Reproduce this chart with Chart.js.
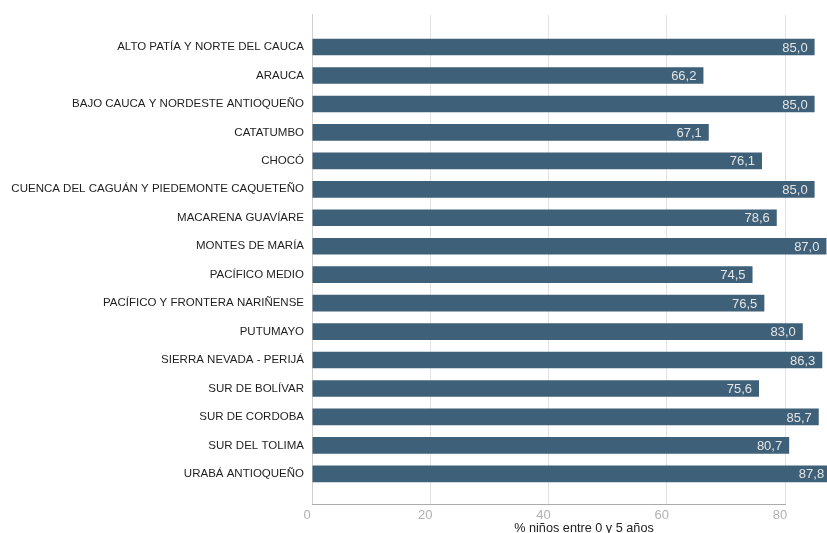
<!DOCTYPE html>
<html>
<head>
<meta charset="utf-8">
<script src="https://cdn.jsdelivr.net/npm/chart.js@4/dist/chart.umd.min.js"></script>
<style>
  html, body { margin: 0; padding: 0; background: #ffffff; overflow: hidden; }
  #wrap { width: 856px; height: 533px; position: relative; }
</style>
</head>
<body>
<div id="wrap"><canvas id="c" width="856" height="533"></canvas></div>
<script>
const categories = [
  "ALTO PATÍA Y NORTE DEL CAUCA",
  "ARAUCA",
  "BAJO CAUCA Y NORDESTE ANTIOQUEÑO",
  "CATATUMBO",
  "CHOCÓ",
  "CUENCA DEL CAGUÁN Y PIEDEMONTE CAQUETEÑO",
  "MACARENA GUAVÍARE",
  "MONTES DE MARÍA",
  "PACÍFICO MEDIO",
  "PACÍFICO Y FRONTERA NARIÑENSE",
  "PUTUMAYO",
  "SIERRA NEVADA - PERIJÁ",
  "SUR DE BOLÍVAR",
  "SUR DE CORDOBA",
  "SUR DEL TOLIMA",
  "URABÁ ANTIOQUEÑO"
];
const values = [85.0, 66.2, 85.0, 67.1, 76.1, 85.0, 78.6, 87.0, 74.5, 76.5, 83.0, 86.3, 75.6, 85.7, 80.7, 87.8];
const xTicks = [0, 20, 40, 60, 80];
const xTitle = "% niños entre 0 y 5 años";

const FONT = "'Liberation Sans', Arial, sans-serif";

const valueLabels = {
  id: 'valueLabels',
  afterDatasetsDraw(chart) {
    const ctx = chart.ctx;
    const meta = chart.getDatasetMeta(0);
    ctx.save();
    ctx.font = "13px " + FONT;
    ctx.fillStyle = "#e4e4e4";
    ctx.textAlign = "right";
    ctx.textBaseline = "middle";
    meta.data.forEach((bar, i) => {
      const txt = values[i].toFixed(1).replace('.', ',');
      ctx.fillText(txt, bar.x - 7, bar.y + 1);
    });
    ctx.restore();
  }
};

const bottomAxisLine = {
  id: 'bottomAxisLine',
  afterDraw(chart) {
    const xs = chart.scales.x;
    const ctx = chart.ctx;
    const y = chart.chartArea.bottom + 0.5;
    ctx.save();
    ctx.strokeStyle = "#ababab";
    ctx.lineWidth = 1;
    ctx.beginPath();
    ctx.moveTo(xs.getPixelForValue(xTicks[0]), y);
    ctx.lineTo(xs.getPixelForValue(xTicks[xTicks.length - 1]) + 1, y);
    ctx.stroke();
    ctx.restore();
  }
};

new Chart(document.getElementById('c'), {
  type: 'bar',
  data: {
    datasets: [{
      data: values.map((v, i) => ({ x: v, y: i })),
      backgroundColor: '#3e6079',
      borderWidth: 0,
      barPercentage: 0.585,
      categoryPercentage: 1.0
    }]
  },
  plugins: [valueLabels, bottomAxisLine],
  options: {
    indexAxis: 'y',
    responsive: false,
    animation: false,
    layout: { padding: { top: 12, left: 0, right: 0, bottom: 0 } },
    plugins: { legend: { display: false }, tooltip: { enabled: false } },
    scales: {
      y: {
        type: 'linear',
        bounds: 'data',
        offset: false,
        reverse: true,
        min: -1.13,
        max: categories.length - 1 + 1.06,
        afterFit(scale) { scale.width = 312; },
        afterBuildTicks(scale) { scale.ticks = categories.map((c, i) => ({ value: i })); },
        grid: { display: false, drawTicks: false, offset: false },
        border: { display: true, color: '#d0d0d0', width: 1 },
        ticks: {
          autoSkip: false,
          padding: 8,
          color: '#1e1e1e',
          font: { family: FONT, size: 11.5 },
          callback(v) {
            return categories[Math.round(v)] || '';
          }
        }
      },
      x: {
        type: 'linear',
        bounds: 'data',
        min: 0,
        max: 92,
        afterFit(scale) { scale.height = 29; },
        afterBuildTicks(scale) { scale.ticks = xTicks.map(v => ({ value: v })); },
        grid: { display: true, drawTicks: false, color: '#e2e2e2', lineWidth: 1 },
        border: { display: false },
        ticks: {
          padding: 4,
          labelOffset: -5,
          color: '#b0b0b0',
          font: { family: FONT, size: 13 }
        },
        title: {
          display: true,
          text: xTitle,
          color: '#222222',
          font: { family: FONT, size: 12.7 },
          padding: { top: 0, bottom: -3 }
        }
      }
    }
  }
});
</script>
</body>
</html>
